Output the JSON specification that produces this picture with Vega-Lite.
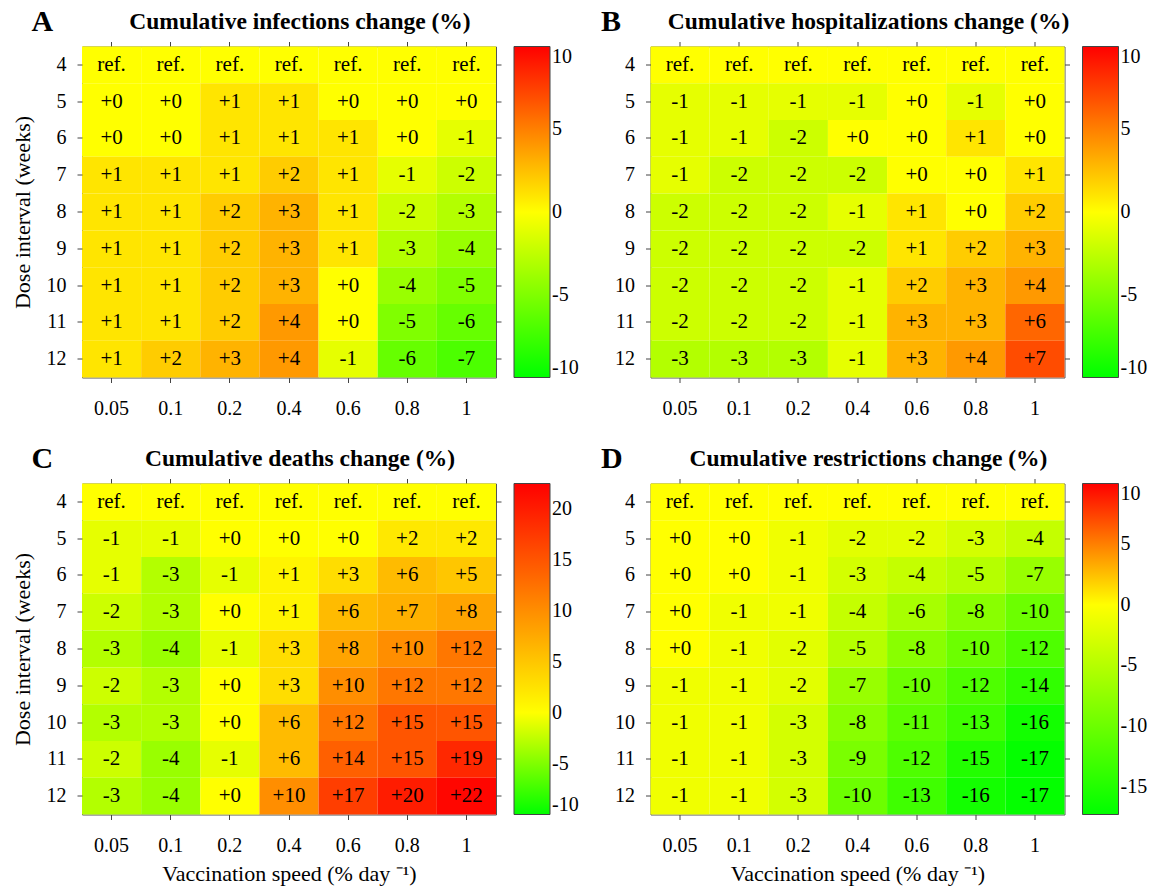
{
"$schema": "https://vega.github.io/schema/vega-lite/v6.json",
"background": "white",
"padding": {"left": 10, "top": 6.5, "right": 0, "bottom": 0},
"config": {
  "font": "Liberation Serif",
  "view": {"stroke": "#555", "strokeWidth": 1},
  "axis": {"labelFont": "Liberation Serif", "labelFontSize": 20, "labelColor": "#000", "titleFont": "Liberation Serif", "titleFontSize": 22, "titleFontWeight": "normal", "titleColor": "#000", "tickColor": "#444", "tickSize": 5, "tickWidth": 1, "domain": false, "grid": false, "labelAngle": 0, "titlePadding": 12},
  "axisX": {"labelPadding": 16},
  "axisY": {"labelPadding": 11},
  "legend": {"gradientLength": 331, "gradientThickness": 36, "offset": 12, "padding": 0, "labelOffset": 12, "labelFontSize": 20, "labelFont": "Liberation Serif", "labelColor": "#000", "labelBaseline": "middle", "gradientStrokeColor": "#444", "gradientStrokeWidth": 1, "labelOverlap": false},
  "title": {"font": "Liberation Serif", "fontSize": 23.5, "fontWeight": "bold", "color": "#000"}
},
"datasets": {
"inf": [
{"s":"0.05","w":4,"v":0,"t":"ref."},{"s":"0.1","w":4,"v":0,"t":"ref."},{"s":"0.2","w":4,"v":0,"t":"ref."},{"s":"0.4","w":4,"v":0,"t":"ref."},{"s":"0.6","w":4,"v":0,"t":"ref."},{"s":"0.8","w":4,"v":0,"t":"ref."},{"s":"1","w":4,"v":0,"t":"ref."},
{"s":"0.05","w":5,"v":0,"t":"+0"},{"s":"0.1","w":5,"v":0,"t":"+0"},{"s":"0.2","w":5,"v":1,"t":"+1"},{"s":"0.4","w":5,"v":1,"t":"+1"},{"s":"0.6","w":5,"v":0,"t":"+0"},{"s":"0.8","w":5,"v":0,"t":"+0"},{"s":"1","w":5,"v":0,"t":"+0"},
{"s":"0.05","w":6,"v":0,"t":"+0"},{"s":"0.1","w":6,"v":0,"t":"+0"},{"s":"0.2","w":6,"v":1,"t":"+1"},{"s":"0.4","w":6,"v":1,"t":"+1"},{"s":"0.6","w":6,"v":1,"t":"+1"},{"s":"0.8","w":6,"v":0,"t":"+0"},{"s":"1","w":6,"v":-1,"t":"-1"},
{"s":"0.05","w":7,"v":1,"t":"+1"},{"s":"0.1","w":7,"v":1,"t":"+1"},{"s":"0.2","w":7,"v":1,"t":"+1"},{"s":"0.4","w":7,"v":2,"t":"+2"},{"s":"0.6","w":7,"v":1,"t":"+1"},{"s":"0.8","w":7,"v":-1,"t":"-1"},{"s":"1","w":7,"v":-2,"t":"-2"},
{"s":"0.05","w":8,"v":1,"t":"+1"},{"s":"0.1","w":8,"v":1,"t":"+1"},{"s":"0.2","w":8,"v":2,"t":"+2"},{"s":"0.4","w":8,"v":3,"t":"+3"},{"s":"0.6","w":8,"v":1,"t":"+1"},{"s":"0.8","w":8,"v":-2,"t":"-2"},{"s":"1","w":8,"v":-3,"t":"-3"},
{"s":"0.05","w":9,"v":1,"t":"+1"},{"s":"0.1","w":9,"v":1,"t":"+1"},{"s":"0.2","w":9,"v":2,"t":"+2"},{"s":"0.4","w":9,"v":3,"t":"+3"},{"s":"0.6","w":9,"v":1,"t":"+1"},{"s":"0.8","w":9,"v":-3,"t":"-3"},{"s":"1","w":9,"v":-4,"t":"-4"},
{"s":"0.05","w":10,"v":1,"t":"+1"},{"s":"0.1","w":10,"v":1,"t":"+1"},{"s":"0.2","w":10,"v":2,"t":"+2"},{"s":"0.4","w":10,"v":3,"t":"+3"},{"s":"0.6","w":10,"v":0,"t":"+0"},{"s":"0.8","w":10,"v":-4,"t":"-4"},{"s":"1","w":10,"v":-5,"t":"-5"},
{"s":"0.05","w":11,"v":1,"t":"+1"},{"s":"0.1","w":11,"v":1,"t":"+1"},{"s":"0.2","w":11,"v":2,"t":"+2"},{"s":"0.4","w":11,"v":4,"t":"+4"},{"s":"0.6","w":11,"v":0,"t":"+0"},{"s":"0.8","w":11,"v":-5,"t":"-5"},{"s":"1","w":11,"v":-6,"t":"-6"},
{"s":"0.05","w":12,"v":1,"t":"+1"},{"s":"0.1","w":12,"v":2,"t":"+2"},{"s":"0.2","w":12,"v":3,"t":"+3"},{"s":"0.4","w":12,"v":4,"t":"+4"},{"s":"0.6","w":12,"v":-1,"t":"-1"},{"s":"0.8","w":12,"v":-6,"t":"-6"},{"s":"1","w":12,"v":-7,"t":"-7"}
],
"hosp": [
{"s":"0.05","w":4,"v":0,"t":"ref."},{"s":"0.1","w":4,"v":0,"t":"ref."},{"s":"0.2","w":4,"v":0,"t":"ref."},{"s":"0.4","w":4,"v":0,"t":"ref."},{"s":"0.6","w":4,"v":0,"t":"ref."},{"s":"0.8","w":4,"v":0,"t":"ref."},{"s":"1","w":4,"v":0,"t":"ref."},
{"s":"0.05","w":5,"v":-1,"t":"-1"},{"s":"0.1","w":5,"v":-1,"t":"-1"},{"s":"0.2","w":5,"v":-1,"t":"-1"},{"s":"0.4","w":5,"v":-1,"t":"-1"},{"s":"0.6","w":5,"v":0,"t":"+0"},{"s":"0.8","w":5,"v":-1,"t":"-1"},{"s":"1","w":5,"v":0,"t":"+0"},
{"s":"0.05","w":6,"v":-1,"t":"-1"},{"s":"0.1","w":6,"v":-1,"t":"-1"},{"s":"0.2","w":6,"v":-2,"t":"-2"},{"s":"0.4","w":6,"v":0,"t":"+0"},{"s":"0.6","w":6,"v":0,"t":"+0"},{"s":"0.8","w":6,"v":1,"t":"+1"},{"s":"1","w":6,"v":0,"t":"+0"},
{"s":"0.05","w":7,"v":-1,"t":"-1"},{"s":"0.1","w":7,"v":-2,"t":"-2"},{"s":"0.2","w":7,"v":-2,"t":"-2"},{"s":"0.4","w":7,"v":-2,"t":"-2"},{"s":"0.6","w":7,"v":0,"t":"+0"},{"s":"0.8","w":7,"v":0,"t":"+0"},{"s":"1","w":7,"v":1,"t":"+1"},
{"s":"0.05","w":8,"v":-2,"t":"-2"},{"s":"0.1","w":8,"v":-2,"t":"-2"},{"s":"0.2","w":8,"v":-2,"t":"-2"},{"s":"0.4","w":8,"v":-1,"t":"-1"},{"s":"0.6","w":8,"v":1,"t":"+1"},{"s":"0.8","w":8,"v":0,"t":"+0"},{"s":"1","w":8,"v":2,"t":"+2"},
{"s":"0.05","w":9,"v":-2,"t":"-2"},{"s":"0.1","w":9,"v":-2,"t":"-2"},{"s":"0.2","w":9,"v":-2,"t":"-2"},{"s":"0.4","w":9,"v":-2,"t":"-2"},{"s":"0.6","w":9,"v":1,"t":"+1"},{"s":"0.8","w":9,"v":2,"t":"+2"},{"s":"1","w":9,"v":3,"t":"+3"},
{"s":"0.05","w":10,"v":-2,"t":"-2"},{"s":"0.1","w":10,"v":-2,"t":"-2"},{"s":"0.2","w":10,"v":-2,"t":"-2"},{"s":"0.4","w":10,"v":-1,"t":"-1"},{"s":"0.6","w":10,"v":2,"t":"+2"},{"s":"0.8","w":10,"v":3,"t":"+3"},{"s":"1","w":10,"v":4,"t":"+4"},
{"s":"0.05","w":11,"v":-2,"t":"-2"},{"s":"0.1","w":11,"v":-2,"t":"-2"},{"s":"0.2","w":11,"v":-2,"t":"-2"},{"s":"0.4","w":11,"v":-1,"t":"-1"},{"s":"0.6","w":11,"v":3,"t":"+3"},{"s":"0.8","w":11,"v":3,"t":"+3"},{"s":"1","w":11,"v":6,"t":"+6"},
{"s":"0.05","w":12,"v":-3,"t":"-3"},{"s":"0.1","w":12,"v":-3,"t":"-3"},{"s":"0.2","w":12,"v":-3,"t":"-3"},{"s":"0.4","w":12,"v":-1,"t":"-1"},{"s":"0.6","w":12,"v":3,"t":"+3"},{"s":"0.8","w":12,"v":4,"t":"+4"},{"s":"1","w":12,"v":7,"t":"+7"}
],
"death": [
{"s":"0.05","w":4,"v":0,"t":"ref."},{"s":"0.1","w":4,"v":0,"t":"ref."},{"s":"0.2","w":4,"v":0,"t":"ref."},{"s":"0.4","w":4,"v":0,"t":"ref."},{"s":"0.6","w":4,"v":0,"t":"ref."},{"s":"0.8","w":4,"v":0,"t":"ref."},{"s":"1","w":4,"v":0,"t":"ref."},
{"s":"0.05","w":5,"v":-1,"t":"-1"},{"s":"0.1","w":5,"v":-1,"t":"-1"},{"s":"0.2","w":5,"v":0,"t":"+0"},{"s":"0.4","w":5,"v":0,"t":"+0"},{"s":"0.6","w":5,"v":0,"t":"+0"},{"s":"0.8","w":5,"v":2,"t":"+2"},{"s":"1","w":5,"v":2,"t":"+2"},
{"s":"0.05","w":6,"v":-1,"t":"-1"},{"s":"0.1","w":6,"v":-3,"t":"-3"},{"s":"0.2","w":6,"v":-1,"t":"-1"},{"s":"0.4","w":6,"v":1,"t":"+1"},{"s":"0.6","w":6,"v":3,"t":"+3"},{"s":"0.8","w":6,"v":6,"t":"+6"},{"s":"1","w":6,"v":5,"t":"+5"},
{"s":"0.05","w":7,"v":-2,"t":"-2"},{"s":"0.1","w":7,"v":-3,"t":"-3"},{"s":"0.2","w":7,"v":0,"t":"+0"},{"s":"0.4","w":7,"v":1,"t":"+1"},{"s":"0.6","w":7,"v":6,"t":"+6"},{"s":"0.8","w":7,"v":7,"t":"+7"},{"s":"1","w":7,"v":8,"t":"+8"},
{"s":"0.05","w":8,"v":-3,"t":"-3"},{"s":"0.1","w":8,"v":-4,"t":"-4"},{"s":"0.2","w":8,"v":-1,"t":"-1"},{"s":"0.4","w":8,"v":3,"t":"+3"},{"s":"0.6","w":8,"v":8,"t":"+8"},{"s":"0.8","w":8,"v":10,"t":"+10"},{"s":"1","w":8,"v":12,"t":"+12"},
{"s":"0.05","w":9,"v":-2,"t":"-2"},{"s":"0.1","w":9,"v":-3,"t":"-3"},{"s":"0.2","w":9,"v":0,"t":"+0"},{"s":"0.4","w":9,"v":3,"t":"+3"},{"s":"0.6","w":9,"v":10,"t":"+10"},{"s":"0.8","w":9,"v":12,"t":"+12"},{"s":"1","w":9,"v":12,"t":"+12"},
{"s":"0.05","w":10,"v":-3,"t":"-3"},{"s":"0.1","w":10,"v":-3,"t":"-3"},{"s":"0.2","w":10,"v":0,"t":"+0"},{"s":"0.4","w":10,"v":6,"t":"+6"},{"s":"0.6","w":10,"v":12,"t":"+12"},{"s":"0.8","w":10,"v":15,"t":"+15"},{"s":"1","w":10,"v":15,"t":"+15"},
{"s":"0.05","w":11,"v":-2,"t":"-2"},{"s":"0.1","w":11,"v":-4,"t":"-4"},{"s":"0.2","w":11,"v":-1,"t":"-1"},{"s":"0.4","w":11,"v":6,"t":"+6"},{"s":"0.6","w":11,"v":14,"t":"+14"},{"s":"0.8","w":11,"v":15,"t":"+15"},{"s":"1","w":11,"v":19,"t":"+19"},
{"s":"0.05","w":12,"v":-3,"t":"-3"},{"s":"0.1","w":12,"v":-4,"t":"-4"},{"s":"0.2","w":12,"v":0,"t":"+0"},{"s":"0.4","w":12,"v":10,"t":"+10"},{"s":"0.6","w":12,"v":17,"t":"+17"},{"s":"0.8","w":12,"v":20,"t":"+20"},{"s":"1","w":12,"v":22,"t":"+22"}
],
"restr": [
{"s":"0.05","w":4,"v":0,"t":"ref."},{"s":"0.1","w":4,"v":0,"t":"ref."},{"s":"0.2","w":4,"v":0,"t":"ref."},{"s":"0.4","w":4,"v":0,"t":"ref."},{"s":"0.6","w":4,"v":0,"t":"ref."},{"s":"0.8","w":4,"v":0,"t":"ref."},{"s":"1","w":4,"v":0,"t":"ref."},
{"s":"0.05","w":5,"v":0,"t":"+0"},{"s":"0.1","w":5,"v":0,"t":"+0"},{"s":"0.2","w":5,"v":-1,"t":"-1"},{"s":"0.4","w":5,"v":-2,"t":"-2"},{"s":"0.6","w":5,"v":-2,"t":"-2"},{"s":"0.8","w":5,"v":-3,"t":"-3"},{"s":"1","w":5,"v":-4,"t":"-4"},
{"s":"0.05","w":6,"v":0,"t":"+0"},{"s":"0.1","w":6,"v":0,"t":"+0"},{"s":"0.2","w":6,"v":-1,"t":"-1"},{"s":"0.4","w":6,"v":-3,"t":"-3"},{"s":"0.6","w":6,"v":-4,"t":"-4"},{"s":"0.8","w":6,"v":-5,"t":"-5"},{"s":"1","w":6,"v":-7,"t":"-7"},
{"s":"0.05","w":7,"v":0,"t":"+0"},{"s":"0.1","w":7,"v":-1,"t":"-1"},{"s":"0.2","w":7,"v":-1,"t":"-1"},{"s":"0.4","w":7,"v":-4,"t":"-4"},{"s":"0.6","w":7,"v":-6,"t":"-6"},{"s":"0.8","w":7,"v":-8,"t":"-8"},{"s":"1","w":7,"v":-10,"t":"-10"},
{"s":"0.05","w":8,"v":0,"t":"+0"},{"s":"0.1","w":8,"v":-1,"t":"-1"},{"s":"0.2","w":8,"v":-2,"t":"-2"},{"s":"0.4","w":8,"v":-5,"t":"-5"},{"s":"0.6","w":8,"v":-8,"t":"-8"},{"s":"0.8","w":8,"v":-10,"t":"-10"},{"s":"1","w":8,"v":-12,"t":"-12"},
{"s":"0.05","w":9,"v":-1,"t":"-1"},{"s":"0.1","w":9,"v":-1,"t":"-1"},{"s":"0.2","w":9,"v":-2,"t":"-2"},{"s":"0.4","w":9,"v":-7,"t":"-7"},{"s":"0.6","w":9,"v":-10,"t":"-10"},{"s":"0.8","w":9,"v":-12,"t":"-12"},{"s":"1","w":9,"v":-14,"t":"-14"},
{"s":"0.05","w":10,"v":-1,"t":"-1"},{"s":"0.1","w":10,"v":-1,"t":"-1"},{"s":"0.2","w":10,"v":-3,"t":"-3"},{"s":"0.4","w":10,"v":-8,"t":"-8"},{"s":"0.6","w":10,"v":-11,"t":"-11"},{"s":"0.8","w":10,"v":-13,"t":"-13"},{"s":"1","w":10,"v":-16,"t":"-16"},
{"s":"0.05","w":11,"v":-1,"t":"-1"},{"s":"0.1","w":11,"v":-1,"t":"-1"},{"s":"0.2","w":11,"v":-3,"t":"-3"},{"s":"0.4","w":11,"v":-9,"t":"-9"},{"s":"0.6","w":11,"v":-12,"t":"-12"},{"s":"0.8","w":11,"v":-15,"t":"-15"},{"s":"1","w":11,"v":-17,"t":"-17"},
{"s":"0.05","w":12,"v":-1,"t":"-1"},{"s":"0.1","w":12,"v":-1,"t":"-1"},{"s":"0.2","w":12,"v":-3,"t":"-3"},{"s":"0.4","w":12,"v":-10,"t":"-10"},{"s":"0.6","w":12,"v":-13,"t":"-13"},{"s":"0.8","w":12,"v":-16,"t":"-16"},{"s":"1","w":12,"v":-17,"t":"-17"}
]
},
"vconcat": [
{"hconcat": [
 {"title": {"text": "A", "anchor": "start", "fontSize": 30, "offset": -28, "dx": 21},
  "vconcat": [{
   "title": {"text": "Cumulative infections change (%)", "frame": "group", "anchor": "middle", "dx": 11, "offset": 8},
   "width": 414, "height": 331,
   "data": {"name": "inf"},
   "layer": [
    {"mark": {"type": "rect"},
     "encoding": {
      "x": {"field": "s", "type": "ordinal", "sort": ["0.05","0.1","0.2","0.4","0.6","0.8","1"], "scale": {"paddingInner": 0, "paddingOuter": 0}, "axis": {"orient": "bottom", "title": null}},
      "y": {"field": "w", "type": "ordinal", "scale": {"paddingInner": 0, "paddingOuter": 0}, "axis": {"orient": "left", "title": "Dose interval (weeks)"}},
      "color": {"field": "v", "type": "quantitative", "scale": {"type": "linear", "domain": [-10, 0, 10], "range": ["#00ff00", "#ffff00", "#ff0000"], "interpolate": "rgb"}, "legend": {"title": null, "values": [-10, -5, 0, 5, 10], "gradientLength": 331, "labelBaseline": "middle", "labelExpr": "replace(datum.label, '−', '-')"}}
     }},
    {"mark": {"type": "text", "font": "Liberation Serif", "fontSize": 21, "color": "#000"},
     "encoding": {
      "x": {"field": "s", "type": "ordinal", "sort": ["0.05","0.1","0.2","0.4","0.6","0.8","1"], "axis": {"orient": "top", "labels": false, "title": null}},
      "y": {"field": "w", "type": "ordinal", "axis": {"orient": "right", "labels": false, "title": null}},
      "text": {"field": "t"}
     }}
   ],
   "resolve": {"axis": {"x": "independent", "y": "independent"}}
  }],
  "resolve": {"scale": {"color": "independent"}, "legend": {"color": "independent"}}
 },
 {"title": {"text": "B", "anchor": "start", "fontSize": 30, "offset": -28, "dx": -13},
  "vconcat": [{
   "title": {"text": "Cumulative hospitalizations change (%)", "frame": "group", "anchor": "middle", "dx": 11, "offset": 8},
   "width": 414, "height": 331,
   "data": {"name": "hosp"},
   "layer": [
    {"mark": {"type": "rect"},
     "encoding": {
      "x": {"field": "s", "type": "ordinal", "sort": ["0.05","0.1","0.2","0.4","0.6","0.8","1"], "scale": {"paddingInner": 0, "paddingOuter": 0}, "axis": {"orient": "bottom", "title": null}},
      "y": {"field": "w", "type": "ordinal", "scale": {"paddingInner": 0, "paddingOuter": 0}, "axis": {"orient": "left", "title": null}},
      "color": {"field": "v", "type": "quantitative", "scale": {"type": "linear", "domain": [-10, 0, 10], "range": ["#00ff00", "#ffff00", "#ff0000"], "interpolate": "rgb"}, "legend": {"title": null, "values": [-10, -5, 0, 5, 10], "gradientLength": 331, "labelBaseline": "middle", "labelExpr": "replace(datum.label, '−', '-')"}}
     }},
    {"mark": {"type": "text", "font": "Liberation Serif", "fontSize": 21, "color": "#000"},
     "encoding": {
      "x": {"field": "s", "type": "ordinal", "sort": ["0.05","0.1","0.2","0.4","0.6","0.8","1"], "axis": {"orient": "top", "labels": false, "title": null}},
      "y": {"field": "w", "type": "ordinal", "axis": {"orient": "right", "labels": false, "title": null}},
      "text": {"field": "t"}
     }}
   ],
   "resolve": {"axis": {"x": "independent", "y": "independent"}}
  }],
  "resolve": {"scale": {"color": "independent"}, "legend": {"color": "independent"}}
 }
 ],
 "spacing": 20.5,
 "resolve": {"scale": {"color": "independent"}, "legend": {"color": "independent"}}
},
{"hconcat": [
 {"title": {"text": "C", "anchor": "start", "fontSize": 30, "offset": -28, "dx": 21},
  "vconcat": [{
   "title": {"text": "Cumulative deaths change (%)", "frame": "group", "anchor": "middle", "dx": 11, "offset": 8},
   "width": 414, "height": 331,
   "data": {"name": "death"},
   "layer": [
    {"mark": {"type": "rect"},
     "encoding": {
      "x": {"field": "s", "type": "ordinal", "sort": ["0.05","0.1","0.2","0.4","0.6","0.8","1"], "scale": {"paddingInner": 0, "paddingOuter": 0}, "axis": {"orient": "bottom", "title": "Vaccination speed (% day ⁻¹)", "titlePadding": 8}},
      "y": {"field": "w", "type": "ordinal", "scale": {"paddingInner": 0, "paddingOuter": 0}, "axis": {"orient": "left", "title": "Dose interval (weeks)"}},
      "color": {"field": "v", "type": "quantitative", "scale": {"type": "linear", "domain": [-10, 0, 22.5], "range": ["#00ff00", "#ffff00", "#ff0000"], "interpolate": "rgb"}, "legend": {"title": null, "values": [-10, -5, 0, 5, 10, 15, 20], "gradientLength": 331, "labelBaseline": "middle", "labelExpr": "replace(datum.label, '−', '-')"}}
     }},
    {"mark": {"type": "text", "font": "Liberation Serif", "fontSize": 21, "color": "#000"},
     "encoding": {
      "x": {"field": "s", "type": "ordinal", "sort": ["0.05","0.1","0.2","0.4","0.6","0.8","1"], "axis": {"orient": "top", "labels": false, "title": null}},
      "y": {"field": "w", "type": "ordinal", "axis": {"orient": "right", "labels": false, "title": null}},
      "text": {"field": "t"}
     }}
   ],
   "resolve": {"axis": {"x": "independent", "y": "independent"}}
  }],
  "resolve": {"scale": {"color": "independent"}, "legend": {"color": "independent"}}
 },
 {"title": {"text": "D", "anchor": "start", "fontSize": 30, "offset": -28, "dx": -13},
  "vconcat": [{
   "title": {"text": "Cumulative restrictions change (%)", "frame": "group", "anchor": "middle", "dx": 11, "offset": 8},
   "width": 414, "height": 331,
   "data": {"name": "restr"},
   "layer": [
    {"mark": {"type": "rect"},
     "encoding": {
      "x": {"field": "s", "type": "ordinal", "sort": ["0.05","0.1","0.2","0.4","0.6","0.8","1"], "scale": {"paddingInner": 0, "paddingOuter": 0}, "axis": {"orient": "bottom", "title": "Vaccination speed (% day ⁻¹)", "titlePadding": 8}},
      "y": {"field": "w", "type": "ordinal", "scale": {"paddingInner": 0, "paddingOuter": 0}, "axis": {"orient": "left", "title": null}},
      "color": {"field": "v", "type": "quantitative", "scale": {"type": "linear", "domain": [-17.3, 0, 10], "range": ["#00ff00", "#ffff00", "#ff0000"], "interpolate": "rgb"}, "legend": {"title": null, "values": [-15, -10, -5, 0, 5, 10], "gradientLength": 331, "labelBaseline": "middle", "labelExpr": "replace(datum.label, '−', '-')"}}
     }},
    {"mark": {"type": "text", "font": "Liberation Serif", "fontSize": 21, "color": "#000"},
     "encoding": {
      "x": {"field": "s", "type": "ordinal", "sort": ["0.05","0.1","0.2","0.4","0.6","0.8","1"], "axis": {"orient": "top", "labels": false, "title": null}},
      "y": {"field": "w", "type": "ordinal", "axis": {"orient": "right", "labels": false, "title": null}},
      "text": {"field": "t"}
     }}
   ],
   "resolve": {"axis": {"x": "independent", "y": "independent"}}
  }],
  "resolve": {"scale": {"color": "independent"}, "legend": {"color": "independent"}}
 }
 ],
 "spacing": 20.5,
 "resolve": {"scale": {"color": "independent"}, "legend": {"color": "independent"}}
}
],
"spacing": 24,
"resolve": {"scale": {"color": "independent"}, "legend": {"color": "independent"}}
}
